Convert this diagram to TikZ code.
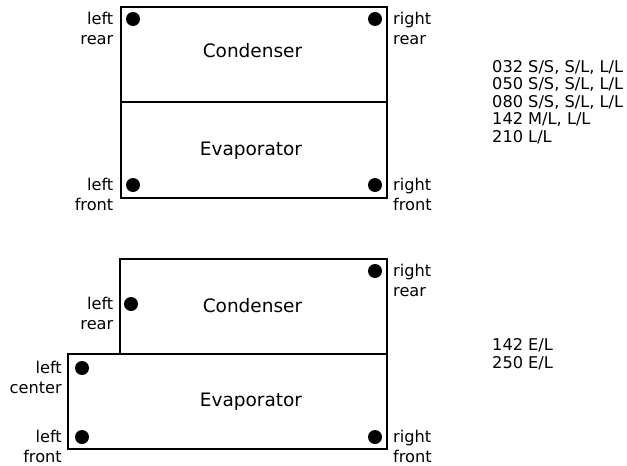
\documentclass[tikz,border=0pt]{standalone}
\usepackage{fontspec}
\setmainfont{DejaVu Sans}
\tikzset{
  unitbox/.style={draw=black,line width=1.5pt,fill=white},
  pin/.style={circle,fill=black,draw=none,minimum size=14pt,inner sep=0pt},
  lbl/.style={font=\fontsize{16.2pt}{20pt}\selectfont,inner sep=0pt,align=right,anchor=east},
  lbr/.style={font=\fontsize{16.2pt}{20pt}\selectfont,inner sep=0pt,align=left,anchor=west},
  title/.style={font=\fontsize{18.5pt}{20pt}\selectfont,inner sep=0pt},
  models/.style={font=\fontsize{16.2pt}{17.6pt}\selectfont,inner sep=0pt,align=left,anchor=west}
}
\begin{document}
\begin{tikzpicture}[x=1pt,y=-1pt]
\useasboundingbox (0,0) rectangle (627,466);
% upper unit
\draw[unitbox] (121,7) rectangle (387,102);
\draw[unitbox] (121,102) rectangle (387,198);
\node[pin] (p1) at (133,19) {};
\node[pin] (p2) at (375,19) {};
\node[pin] (p3) at (133,185) {};
\node[pin] (p4) at (375,185) {};
\node[title] (c1) at (252.5,51) {Condenser};
\node[title] (e1) at (251,151) {Evaporator};
\node[lbl] (l1) at (113.5,28.5) {left\\rear};
\node[lbr] (r1) at (393,28.5) {right\\rear};
\node[lbl] (l2) at (113.5,194.5) {left\\front};
\node[lbr] (r2) at (393,194.5) {right\\front};
\node[models] (m1) at (492,102) {032 S/S, S/L, L/L\\050 S/S, S/L, L/L\\080 S/S, S/L, L/L\\142 M/L, L/L\\210 L/L};
% lower unit
\draw[unitbox] (120,259) rectangle (387,354);
\draw[unitbox] (68,354) rectangle (387,449);
\node[pin] (p5) at (375,271) {};
\node[pin] (p6) at (131,304) {};
\node[pin] (p7) at (82,368) {};
\node[pin] (p8) at (82,437) {};
\node[pin] (p9) at (375,437) {};
\node[title] (c2) at (252.5,306) {Condenser};
\node[title] (e2) at (251,402) {Evaporator};
\node[lbr] (r3) at (393,280.5) {right\\rear};
\node[lbl] (l3) at (113.5,313.5) {left\\rear};
\node[lbl] (l4) at (62,377.5) {left\\center};
\node[lbl] (l5) at (62,446.5) {left\\front};
\node[lbr] (r4) at (393,446.5) {right\\front};
\node[models] (m2) at (492,354) {142 E/L\\250 E/L};
\end{tikzpicture}
\end{document}
